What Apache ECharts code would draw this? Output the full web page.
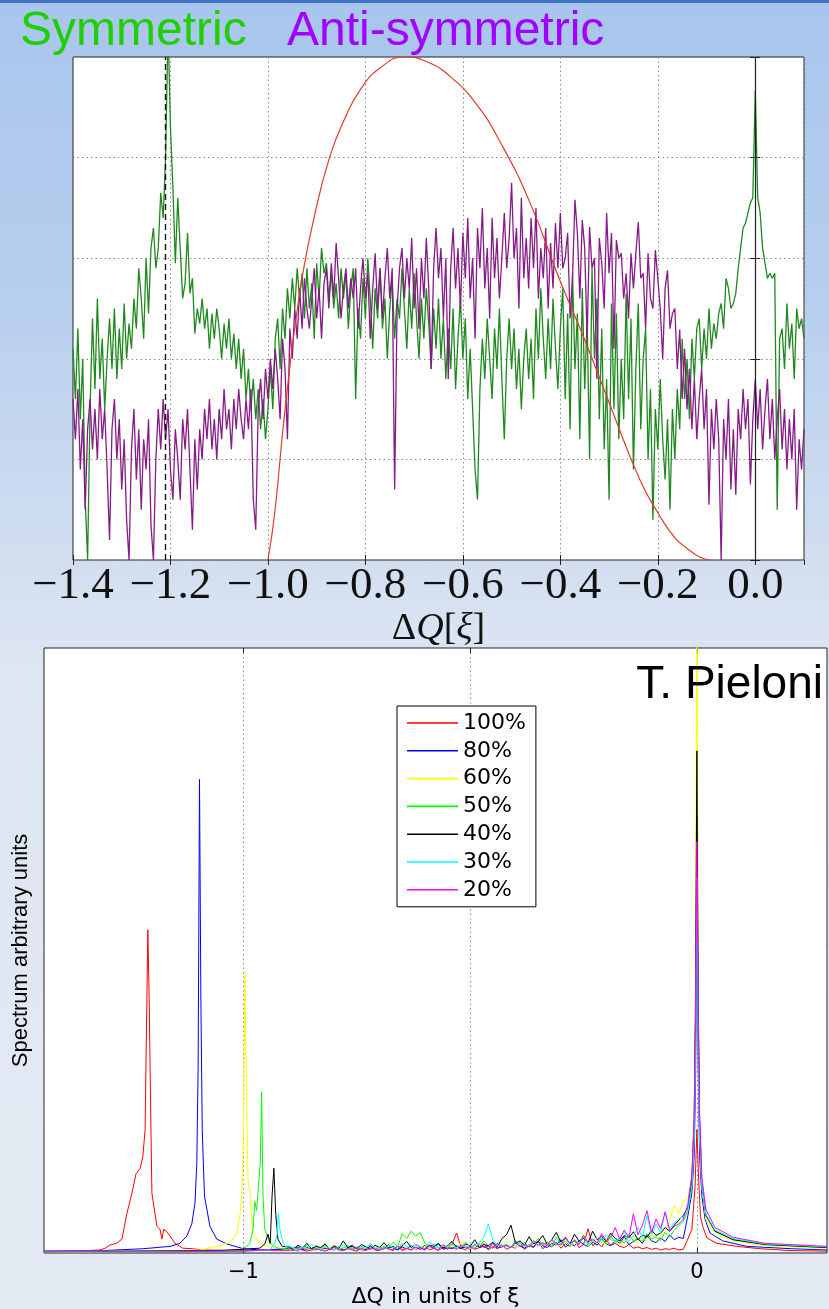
<!DOCTYPE html>
<html><head><meta charset="utf-8">
<script src="https://cdn.jsdelivr.net/npm/echarts@6/dist/echarts.min.js"></script>
<style>
html,body{margin:0;padding:0;}
body{width:829px;height:1309px;overflow:hidden;position:relative;
background:linear-gradient(to bottom,#a8c5ed 0px,#b7cfee 300px,#d2def0 560px,#dce5f2 660px,#e1e8f3 1000px,#e4eaf3 1309px);}
#topbar{position:absolute;left:0;top:0;width:829px;height:3px;background:#3f72c4;}
#chart{position:absolute;left:0;top:0;width:829px;height:1309px;}
</style></head><body><div id="topbar"></div><div id="chart"></div>
<script>
// ---------- top chart: sampling grid of the spectra ----------
const topStart = -1.4, topStep = 0.005;
const topTicks = [-1.4, -1.2, -1.0, -0.8, -0.6, -0.4, -0.2, 0.0];
// Symmetric mode spectrum (green)
const symY = [
2.1,1.6,2.3,1.4,2.0,0.6,0.0,1.5,2.4,1.7,
2.6,1.8,2.2,1.5,2.0,2.4,1.9,2.5,1.8,2.3,
1.9,2.55,2.0,2.35,2.1,2.6,2.3,2.9,2.6,2.2,
3.0,2.45,3.1,3.3,2.9,3.1,3.65,3.4,4.0,5.3,
4.3,3.7,2.95,3.6,3.1,2.6,2.75,3.25,2.65,2.8,
2.25,2.5,2.35,2.6,2.3,2.5,2.1,2.45,2.2,2.5,
2.3,2.0,2.35,2.1,2.4,2.0,2.25,1.9,2.2,1.8,
2.1,1.6,1.9,1.5,1.8,1.4,1.7,1.3,1.6,1.2,
1.5,1.9,1.5,2.2,2.4,1.9,2.5,2.2,2.7,2.4,
2.8,2.5,2.9,2.6,2.85,2.4,2.9,2.5,2.75,2.2,
2.95,2.6,3.1,2.85,2.95,2.6,2.85,2.5,2.75,2.4,
2.9,2.6,2.85,2.3,2.7,2.9,1.6,2.5,2.2,2.8,
2.4,3.0,2.6,2.1,2.7,2.4,2.9,2.3,2.6,2.0,
2.5,2.8,2.2,2.6,2.4,2.9,2.5,2.1,2.7,2.3,
2.85,2.4,2.0,2.6,2.2,2.7,2.35,1.9,2.5,2.1,
2.6,2.0,2.4,1.8,2.3,1.9,2.5,1.7,2.2,2.6,
2.0,2.4,1.6,2.1,1.5,0.9,0.6,1.7,2.2,1.8,
2.4,2.0,1.6,2.3,1.9,2.5,1.8,1.2,2.0,2.4,
1.9,2.3,1.7,2.1,1.5,2.0,2.3,1.8,2.2,1.6,
2.5,2.0,2.7,2.2,1.8,2.4,1.9,2.6,2.1,1.7,
2.3,2.7,1.6,2.45,1.3,2.85,1.9,2.45,1.2,2.7,
1.7,2.4,1.0,2.9,2.0,2.6,1.4,2.3,1.1,1.8,
0.6,2.55,1.5,2.45,1.2,2.0,1.4,2.65,1.6,2.4,
0.9,1.9,2.55,1.3,2.0,2.3,1.0,1.7,0.4,1.5,
1.1,1.8,1.2,0.8,1.4,0.5,1.5,1.0,1.7,1.3,
2.2,1.6,2.0,1.4,2.2,1.8,2.3,2.4,1.9,2.3,
2.0,2.5,2.1,2.35,2.2,2.45,2.55,2.3,2.8,2.7,
2.5,2.55,2.65,2.9,3.1,3.3,3.35,3.45,3.55,3.6,
4.67,3.6,3.45,3.1,2.95,2.8,2.85,2.8,2.85,0.5,
2.2,2.3,1.9,2.55,2.1,2.35,1.8,2.5,2.3,2.4,2.2];
// Anti-symmetric mode spectrum (purple)
const antiY = [
1.6,1.2,1.7,0.9,1.4,0.5,1.3,1.6,1.1,1.5,
1.0,1.7,1.2,1.5,0.9,0.2,1.3,1.6,1.0,1.4,
0.7,1.2,0.4,0.0,1.1,1.5,0.8,1.3,0.5,1.2,
0.9,1.4,0.35,0.0,1.0,1.5,1.1,1.6,1.2,1.5,
0.9,0.6,1.3,1.0,0.6,1.4,1.1,1.5,0.9,0.3,
1.2,0.7,1.3,1.0,1.5,1.2,1.6,1.1,1.4,1.0,
1.5,1.2,1.7,1.3,1.5,1.1,1.6,1.3,1.7,1.4,
1.2,1.6,1.3,1.7,0.6,0.3,1.5,1.8,1.4,1.9,
1.6,2.0,1.7,2.1,1.8,1.4,2.2,1.9,1.2,2.3,
2.0,2.5,2.2,2.7,2.3,2.8,2.5,2.3,2.6,2.9,
2.4,2.7,2.2,2.75,2.9,2.5,2.95,2.6,3.15,2.8,
2.4,2.7,2.9,2.5,2.8,2.6,2.9,2.3,2.7,3.0,
2.6,2.85,2.2,2.7,3.05,2.5,2.9,2.4,2.8,3.1,
2.6,2.9,0.7,2.5,2.9,3.1,2.6,3.0,2.7,3.2,
2.5,2.9,2.3,3.0,2.6,3.2,2.7,1.9,2.9,3.3,
2.8,3.1,2.4,3.0,1.8,2.9,3.3,2.7,3.1,2.5,
3.25,2.8,3.4,2.6,3.0,2.2,3.3,2.9,3.5,2.7,
3.1,2.4,3.4,2.8,3.2,2.6,3.0,3.45,2.9,3.2,
3.75,3.0,3.3,2.5,3.6,2.8,3.2,2.7,3.4,2.9,
3.5,2.6,3.1,2.8,3.3,2.5,3.15,2.7,3.35,2.9,
3.45,2.9,3.0,3.25,2.4,2.8,3.58,3.25,2.6,3.38,
3.1,2.2,3.31,2.9,3.0,1.8,3.2,2.95,2.5,3.45,
2.85,3.25,2.1,3.18,3.0,3.05,2.6,2.85,2.4,3.05,
2.7,3.05,3.36,2.8,2.85,2.3,3.05,2.6,2.5,3.08,
2.8,2.5,2.0,2.7,2.88,2.3,2.45,2.5,1.9,2.29,
1.6,2.1,1.5,1.9,1.3,1.8,1.2,1.6,1.9,1.3,
1.7,0.55,1.5,1.1,1.6,1.2,0.0,1.4,1.0,1.6,
0.7,1.3,0.65,1.5,1.2,1.7,1.3,1.6,0.75,1.4,
1.8,1.3,1.7,1.1,1.5,1.8,1.2,1.6,1.0,1.4,
1.7,1.1,1.5,0.9,1.4,1.0,1.5,0.5,1.2,0.9,1.3];
// footprint-derived distribution (red)
const fpX = [-1.0,-0.986,-0.965,-0.934,-0.904,-0.873,-0.842,-0.811,-0.770,-0.719,-0.668,-0.627,-0.575,-0.524,-0.463,-0.401,-0.350,-0.298,-0.237,-0.200,-0.165,-0.141,-0.114,-0.093];
const fpY = [0,0.47,1.49,2.68,3.43,4.01,4.39,4.67,4.89,5.0,4.94,4.81,4.55,4.16,3.56,2.78,2.19,1.54,0.80,0.47,0.22,0.12,0.03,0];
const markDashed = -1.21, markSolid = 0;

// ---------- bottom chart ----------
const botTicks = [-1, -0.5, 0];
const seriesNames = ['100%','80%','60%','50%','40%','30%','20%'];
const seriesColors = ['#ff0000','#0000ff','#ffff00','#00ff00','#000000','#00ffff','#ff00ff'];
const noiseStart = -0.90, noiseStep = 0.01;
// coherent peaks (left part)
const pk100 = [[-1.44,0.3],[-1.35,0.4],[-1.317,0.5],[-1.305,0.8],[-1.295,1.3],[-1.28,1.6],[-1.268,2.3],[-1.257,6.6],[-1.246,9.9],[-1.237,13.1],[-1.228,14],[-1.222,15.9],[-1.217,20.4],[-1.213,42],[-1.211,53.4],[-1.208,42],[-1.204,20],[-1.202,9.9],[-1.198,9.7],[-1.191,4.4],[-1.184,3.9],[-1.180,2.3],[-1.176,3.9],[-1.170,3.6],[-1.162,2.8],[-1.151,1.6],[-1.134,0.8],[-1.112,0.7],[-1.09,0.5],[-1.0,0.4],[-0.95,0.5]];
const pk80 = [[-1.44,0.3],[-1.31,0.4],[-1.222,0.7],[-1.162,1.1],[-1.14,1.6],[-1.125,2.8],[-1.114,4.8],[-1.107,8.2],[-1.103,14.8],[-1.1,31],[-1.097,78.3],[-1.094,42],[-1.091,20.4],[-1.086,9.4],[-1.074,4.4],[-1.059,2.3],[-1.037,1.5],[-1.0,0.7],[-0.964,0.5],[-0.93,0.6]];
const pk60 = [[-1.44,0.2],[-1.15,0.3],[-1.096,0.5],[-1.059,1.1],[-1.037,1.6],[-1.023,2.3],[-1.015,3.3],[-1.008,6.1],[-1.004,9.4],[-1.0,20],[-0.997,46.3],[-0.994,30],[-0.99,12],[-0.985,9.4],[-0.98,3.3],[-0.965,1.5],[-0.94,1.0],[-0.92,0.8]];
const pk50 = [[-1.44,0.3],[-1.1,0.4],[-1.008,0.5],[-0.993,1.1],[-0.986,1.6],[-0.979,3.9],[-0.975,8.5],[-0.971,7],[-0.967,7],[-0.963,15],[-0.96,26.6],[-0.957,9.4],[-0.953,3.9],[-0.942,1.6],[-0.925,0.8]];
const pk40 = [[-1.44,0.2],[-1.05,0.4],[-0.964,0.8],[-0.953,1.5],[-0.946,3.1],[-0.941,1.6],[-0.937,9.4],[-0.933,14],[-0.929,6.6],[-0.924,2.3],[-0.915,1.1]];
const pk30 = [[-1.44,0.2],[-1.0,0.3],[-0.942,0.5],[-0.931,1.6],[-0.926,3],[-0.923,6.6],[-0.92,4],[-0.915,2.3],[-0.908,1.1]];
const pk20 = [[-1.44,0.3],[-1.2,0.2],[-1.0,0.3],[-0.95,0.5],[-0.92,0.4]];
// incoherent noise, x from -0.90 to -0.03
const nz100 = [0.6,0.4,0.8,0.5,0.3,0.7,0.5,0.9,0.4,0.6,0.5,1.0,0.4,0.7,0.5,0.3,0.8,0.6,1.2,0.5,0.4,0.9,0.6,0.5,1.1,0.4,0.7,0.5,0.9,0.6,1.3,0.5,0.8,0.4,1.0,0.6,1.5,3.3,0.8,0.5,1.2,0.6,0.9,1.6,0.5,1.1,0.7,1.4,0.6,1.0,0.8,1.7,0.6,1.2,0.9,2.0,0.7,1.3,1.0,1.8,0.8,1.5,1.1,2.2,0.9,1.4,4.0,1.2,1.8,1.0,2.1,1.3,1.6,1.1,0.9,1.4,0.8,1.0,0.7,0.9,0.6,0.8,0.5,0.7,0.6,0.8,0.5,0.6];
const nz80 = [0.8,0.6,1.0,0.5,0.9,0.7,1.2,0.5,0.8,0.6,1.0,0.7,0.5,0.9,1.3,0.6,0.8,0.5,1.1,0.7,0.9,0.6,1.4,0.8,0.5,1.0,0.7,1.2,0.6,0.9,0.5,1.1,0.8,1.5,0.6,0.9,0.7,1.2,0.8,1.0,0.6,1.4,0.9,1.1,0.7,1.6,0.8,1.0,1.3,0.9,1.7,1.1,0.8,1.4,1.0,1.9,1.2,0.9,1.6,1.3,2.2,1.0,1.5,1.2,2.0,1.4,1.1,1.8,1.3,2.4,1.5,1.2,2.0,1.6,2.7,1.4,1.9,2.3,1.6,2.9,2.0,1.7,2.5,1.9,3.0,2.2,2.6,2.4];
const nz60 = [0.5,0.7,0.4,0.9,0.6,0.5,1.0,0.7,0.5,0.8,1.2,0.6,0.9,0.5,0.7,1.1,0.6,0.8,0.5,1.3,0.7,0.9,0.6,1.0,0.8,1.5,0.6,0.9,0.7,1.2,0.8,1.0,1.6,0.7,1.1,0.9,1.3,0.8,1.8,1.0,0.7,1.2,0.9,1.5,1.1,0.8,1.4,1.0,2.0,1.2,0.9,1.6,1.1,1.3,2.2,1.0,1.5,1.2,1.8,1.4,1.1,2.3,1.3,1.7,1.5,2.6,1.2,1.9,1.6,2.1,1.4,2.5,1.8,1.5,2.2,1.9,2.8,1.6,2.4,2.0,3.0,2.3,2.7,3.5,5.5,7.8,6.5,8.6];
const nz50 = [0.6,1.0,0.5,0.8,1.2,0.6,0.9,0.5,1.4,0.7,1.0,0.6,0.8,1.3,0.5,0.9,1.1,0.7,1.6,0.8,0.6,1.2,0.9,1.8,1.0,3.2,2.4,3.6,2.8,3.4,1.6,1.0,1.4,0.8,1.2,0.9,1.5,0.7,1.1,1.8,0.9,1.3,1.0,2.0,1.2,0.8,1.6,1.1,1.4,0.9,2.1,1.2,1.7,1.0,1.5,2.4,1.3,1.8,1.1,2.6,1.4,1.9,1.2,2.2,1.6,3.0,1.3,2.0,1.7,2.5,1.5,2.8,1.8,2.2,1.6,3.1,2.0,2.4,1.9,3.2,2.3,2.7,2.1,3.4,2.6,3.8,4.5,5.2];
const nz40 = [1.0,0.6,1.3,0.8,1.6,0.7,1.1,0.9,1.5,0.6,1.2,0.8,2.0,0.9,1.1,0.7,1.4,1.0,0.6,1.3,0.9,1.7,0.8,1.1,0.6,1.2,1.9,0.9,1.4,1.0,0.7,1.3,1.1,1.6,0.8,1.2,1.9,1.0,0.7,1.5,1.1,2.2,0.9,1.4,1.2,1.8,1.0,2.4,3.0,4.6,1.6,2.0,1.3,2.7,1.5,1.9,2.9,1.4,2.2,3.4,1.8,2.6,1.5,3.1,2.0,2.4,1.7,3.6,2.2,2.8,1.9,3.3,2.4,2.0,2.9,2.5,3.5,2.2,3.0,2.6,3.8,2.9,3.3,4.2,3.6,4.6,5.4,6.2];
const nz30 = [1.2,0.8,0.6,1.0,0.7,1.4,0.9,0.6,1.1,0.8,0.5,1.0,1.3,0.7,0.9,0.6,1.2,0.8,1.5,0.7,1.0,0.6,1.3,0.9,0.7,1.6,1.1,0.8,1.4,1.0,0.7,1.8,1.2,0.9,1.3,1.0,1.6,0.8,1.2,1.0,1.4,0.9,1.7,2.6,4.8,2.2,1.3,1.0,1.5,0.9,1.2,1.8,1.0,1.4,2.0,1.1,1.6,1.3,2.2,1.2,1.7,2.4,1.4,1.9,1.6,2.7,1.5,2.0,2.5,1.8,3.0,2.2,1.9,2.6,3.4,2.0,2.8,4.2,2.6,6.2,3.0,4.8,3.4,6.8,4.0,5.0,5.6,6.0];
const nz20 = [0.4,0.6,0.3,0.8,0.5,0.4,0.7,0.5,0.3,0.6,0.9,0.5,0.4,0.7,0.6,1.0,0.5,0.4,0.8,0.6,0.5,0.9,0.7,0.4,1.1,0.6,0.8,0.5,1.0,0.7,0.6,1.2,0.8,0.5,1.4,0.7,0.9,0.6,1.3,0.8,1.0,0.7,1.5,0.9,1.1,0.8,1.6,1.0,1.2,0.9,1.8,1.1,1.4,1.0,2.0,1.3,1.7,1.2,2.2,1.5,1.3,2.5,1.6,2.0,1.4,2.8,1.8,2.3,1.7,3.2,2.0,2.6,4.2,2.3,3.8,2.5,6.5,3.0,4.6,7.0,3.4,5.6,4.0,6.8,3.6,4.4,4.8,5.6];
// peaks at zero (right part)
const z100 = [[-0.02,2.3],[-0.011,3.9],[-0.008,7],[-0.004,11],[0,20.4],[0.004,12],[0.008,6],[0.013,4.4],[0.022,2.5],[0.044,1.6],[0.088,1.1],[0.14,0.7],[0.21,0.4],[0.287,0.3]];
const z80 = [[-0.02,6.1],[-0.011,9.9],[-0.006,16],[-0.003,28],[0,55],[0.003,30],[0.006,16],[0.011,9.4],[0.018,5.6],[0.029,3.3],[0.057,2.0],[0.11,1.1],[0.21,0.7],[0.287,0.5]];
const z60 = [[-0.02,9],[-0.012,12],[-0.006,22],[-0.003,45],[0,110],[0.003,45],[0.006,22],[0.011,11],[0.02,5.5],[0.04,3.2],[0.08,2],[0.15,1.2],[0.287,0.8]];
const z50 = [[-0.02,7],[-0.011,11],[-0.006,20],[-0.003,38],[0,72],[0.003,38],[0.006,20],[0.011,11],[0.02,6.2],[0.04,3.6],[0.08,2.2],[0.15,1.4],[0.287,0.9]];
const z40 = [[-0.02,7.5],[-0.011,12],[-0.006,22],[-0.003,42],[0,83],[0.003,42],[0.006,22],[0.011,11.5],[0.02,6.2],[0.04,3.6],[0.08,2.2],[0.15,1.4],[0.287,0.9]];
const z30 = [[-0.02,7],[-0.011,11],[-0.006,19],[-0.003,33],[0,62],[0.003,33],[0.006,19],[0.011,11],[0.02,6.4],[0.04,3.8],[0.08,2.4],[0.15,1.5],[0.287,1.0]];
const z20 = [[-0.02,8],[-0.011,13],[-0.006,22],[-0.003,38],[0,68],[0.003,38],[0.006,23],[0.011,12.5],[0.02,7.2],[0.04,4.2],[0.08,2.6],[0.15,1.6],[0.287,1.1]];

const peakParts = [pk100,pk80,pk60,pk50,pk40,pk30,pk20];
const noiseParts = [nz100,nz80,nz60,nz50,nz40,nz30,nz20];
const zeroParts = [z100,z80,z60,z50,z40,z30,z20];

// ---------- build ----------
const gridPairs = arr => arr.map((v,i) => [+(topStart + i*topStep).toFixed(4), v]);
const botData = k => peakParts[k]
  .concat(noiseParts[k].map((v,i) => [+(noiseStart + i*noiseStep).toFixed(3), v]))
  .concat(zeroParts[k]);

const minus = '\u2212';
const chart = echarts.init(document.getElementById('chart'), null, {renderer:'canvas'});
const tickStyle = {show:true, inside:true, length:5, lineStyle:{color:'#222', width:1}};
const dotted = {show:true, lineStyle:{color:'#8c8c8c', width:1, type:[1.5,3]}};

const botSeries = seriesNames.map((n,k) => ({
  name:n, type:'line', xAxisIndex:2, yAxisIndex:2, data:botData(k),
  symbol:'none', showSymbol:false, clip:true,
  lineStyle:{color:seriesColors[k], width:1}, itemStyle:{color:seriesColors[k]}
}));

chart.setOption({
  animation:false,
  backgroundColor:'transparent',
  title:[
    {text:'Symmetric', left:20, top:8, padding:0, textStyle:{color:'#1fcf00', fontSize:48, fontFamily:'Liberation Sans', fontWeight:'normal'}},
    {text:'Anti-symmetric', left:287, top:8, padding:0, textStyle:{color:'#a100ff', fontSize:48, fontFamily:'Liberation Sans', fontWeight:'normal'}},
    {text:'T. Pieloni', right:6, top:662, padding:0, textStyle:{color:'#000', fontSize:46, fontFamily:'Liberation Sans', fontWeight:'normal'}}
  ],
  legend:{
    data:seriesNames, orient:'vertical', left:397, top:706, icon:'rect',
    backgroundColor:'#fff', borderColor:'#000', borderWidth:1, borderRadius:0,
    padding:[6,10,6,10], itemWidth:51, itemHeight:1.6, itemGap:5.8,
    textStyle:{fontFamily:'DejaVu Sans', fontSize:22, color:'#000', lineHeight:22}
  },
  grid:[
    {left:73, top:57, width:731, height:503, show:true, backgroundColor:'#fff', borderColor:'#222', borderWidth:1},
    {left:44, top:648, width:783, height:609, show:true, backgroundColor:'#fff', borderColor:'#222', borderWidth:1}
  ],
  xAxis:[
    {gridIndex:0, type:'value', min:-1.4, max:0.1, interval:0.2, position:'bottom',
     axisLine:{show:false}, axisTick:tickStyle, splitLine:dotted,
     axisLabel:{margin:4, showMaxLabel:false, color:'#111', fontFamily:'Liberation Serif', fontSize:45,
       formatter:v => (v < -1e-9 ? minus : '') + Math.abs(v).toFixed(1)},
     name:'{a|Δ}{b|Q}{a|[}{b|ξ}{a|]}', nameLocation:'middle', nameGap:49,
     nameTextStyle:{rich:{a:{fontFamily:'Liberation Serif', fontSize:38, color:'#111'}, b:{fontFamily:'Liberation Serif', fontSize:38, fontStyle:'italic', color:'#111'}}}},
    {gridIndex:0, type:'value', min:-1.4, max:0.1, interval:0.2, position:'top',
     axisLine:{show:false}, axisTick:tickStyle, axisLabel:{show:false}, splitLine:{show:false}},
    {gridIndex:1, type:'value', min:-1.44, max:0.287, position:'bottom',
     axisLine:{show:false}, axisTick:Object.assign({customValues:botTicks}, tickStyle),
     splitLine:dotted,
     axisLabel:{customValues:botTicks, margin:9, color:'#000', fontFamily:'DejaVu Sans', fontSize:21,
       formatter:v => v < 0 ? minus + String(Math.abs(v)) : '0'},
     name:'ΔQ in units of ξ', nameLocation:'middle', nameGap:33,
     nameTextStyle:{fontFamily:'DejaVu Sans', fontSize:22, color:'#000'}},
    {gridIndex:1, type:'value', min:-1.44, max:0.287, position:'top',
     axisLine:{show:false}, axisTick:Object.assign({customValues:botTicks}, tickStyle),
     axisLabel:{show:false}, splitLine:{show:false}}
  ],
  yAxis:[
    {gridIndex:0, type:'value', min:0, max:5, interval:1, axisLine:{show:false}, axisTick:tickStyle, axisLabel:{show:false}, splitLine:dotted},
    {gridIndex:0, type:'value', min:0, max:5, interval:1, position:'right', axisLine:{show:false}, axisTick:tickStyle, axisLabel:{show:false}, splitLine:{show:false}},
    {gridIndex:1, type:'value', min:0, max:100, axisLine:{show:false}, axisTick:{show:false}, axisLabel:{show:false}, splitLine:{show:false},
     name:'Spectrum arbitrary units', nameLocation:'middle', nameGap:12, nameRotate:90,
     nameTextStyle:{fontFamily:'Liberation Sans', fontSize:22, color:'#000'}}
  ],
  series:[
    {name:'sym', type:'line', xAxisIndex:0, yAxisIndex:0, data:gridPairs(symY), symbol:'none', clip:true,
     lineStyle:{color:'#1f891f', width:1.3}},
    {name:'anti', type:'line', xAxisIndex:0, yAxisIndex:0, data:gridPairs(antiY), symbol:'none', clip:true,
     lineStyle:{color:'#861a86', width:1.3}},
    {name:'fp', type:'line', xAxisIndex:0, yAxisIndex:0, data:fpX.map((x,i)=>[x,fpY[i]]), symbol:'none', smooth:true, clip:true,
     lineStyle:{color:'#e33a2c', width:1.2},
     markLine:{silent:true, symbol:'none', label:{show:false}, animation:false,
       data:[{xAxis:markDashed, lineStyle:{color:'#111', width:1.4, type:[6,4]}},
             {xAxis:markSolid, lineStyle:{color:'#222', width:1.2, type:'solid'}}]}}
  ].concat(botSeries)
});
</script></body></html>
